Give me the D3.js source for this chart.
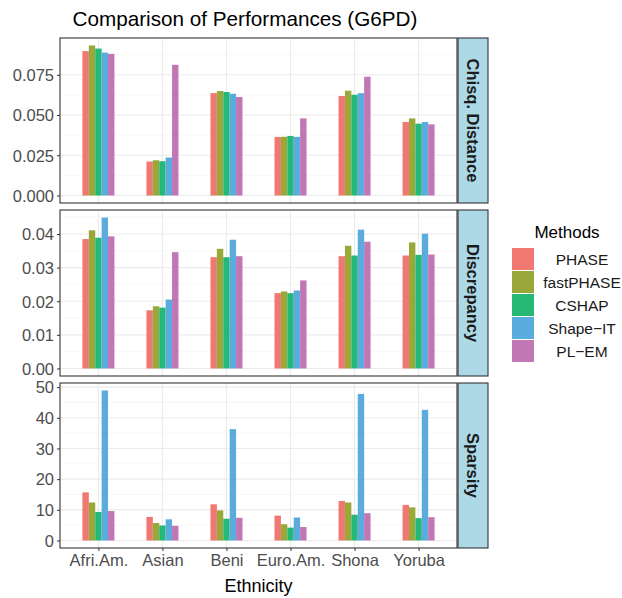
<!DOCTYPE html>
<html>
<head>
<meta charset="utf-8">
<script src="https://cdn.jsdelivr.net/npm/d3@7"></script>
<style>
  body { margin: 0; background: #fff; }
  text { font-family: "Liberation Sans", Arial, sans-serif; }
</style>
</head>
<body>
<svg id="chart" width="622" height="598"></svg>
<script>
const ethnicities = ['Afri.Am.', 'Asian', 'Beni', 'Euro.Am.', 'Shona', 'Yoruba'];
const methods = ['PHASE', 'fastPHASE', 'CSHAP', 'Shape-IT', 'PL-EM'];
const colorsShown = ['#F07870', '#9AA83A', '#25B877', '#5AABDE', '#C077B3'];

// values per ethnicity, in method order
const chisqDistance = [
  [0.0897, 0.0932, 0.0913, 0.0888, 0.0880],
  [0.0211, 0.0219, 0.0213, 0.0236, 0.0812],
  [0.0636, 0.0649, 0.0643, 0.0632, 0.0612],
  [0.0364, 0.0365, 0.0370, 0.0364, 0.0479],
  [0.0618, 0.0651, 0.0626, 0.0636, 0.0738],
  [0.0457, 0.0479, 0.0446, 0.0457, 0.0442]
];
const discrepancy = [
  [0.0385, 0.0411, 0.0389, 0.0449, 0.0393],
  [0.0173, 0.0185, 0.0181, 0.0205, 0.0346],
  [0.0331, 0.0356, 0.0331, 0.0383, 0.0334],
  [0.0224, 0.0229, 0.0224, 0.0232, 0.0262],
  [0.0334, 0.0365, 0.0336, 0.0413, 0.0377],
  [0.0336, 0.0375, 0.0338, 0.0401, 0.0339]
];
const sparsity = [
  [15.7, 12.4, 9.3, 48.9, 9.6],
  [7.7, 5.7, 4.9, 6.9, 4.8],
  [11.8, 9.8, 7.1, 36.3, 7.4],
  [8.1, 5.3, 4.2, 7.5, 4.4],
  [12.9, 12.4, 8.4, 47.8, 8.9],
  [11.6, 10.8, 7.3, 42.6, 7.6]
];

const panels = [
  { name: 'Chisq. Distance', values: chisqDistance, ticks: [0, 0.025, 0.05, 0.075], fmt: d3.format('.3f'), top: 38, bottom: 203 },
  { name: 'Discrepancy', values: discrepancy, ticks: [0, 0.01, 0.02, 0.03, 0.04], fmt: d3.format('.2f'), top: 210, bottom: 376 },
  { name: 'Sparsity', values: sparsity, ticks: [0, 10, 20, 30, 40, 50], fmt: d3.format('d'), top: 383, bottom: 548 }
];

const svg = d3.select('#chart');
const left = 60, right = 457;
const stripW = 30;

// ggplot style discrete scale: 0.6 units of padding on each end
const xscale = d3.scalePoint().domain(ethnicities).range([left, right]).padding(0.6);
const step = xscale.step();
const dodge = d3.scaleBand().domain(methods).range([-step * 0.25, step * 0.25]);
const color = d3.scaleOrdinal().domain(methods).range(colorsShown);

svg.append('text')
  .attr('x', 245).attr('y', 26)
  .attr('text-anchor', 'middle')
  .style('font-size', '20.7px')
  .text('Comparison of Performances (G6PD)');

panels.forEach(p => {
  const ymax = d3.max(p.values.flat());
  const pad = ymax * 0.05;
  const yscale = d3.scaleLinear().domain([-pad, ymax + pad]).range([p.bottom, p.top]);

  const g = svg.append('g');
  g.append('rect')
    .attr('x', left).attr('y', p.top)
    .attr('width', right - left).attr('height', p.bottom - p.top)
    .attr('fill', '#fff');

  // minor grid
  const minor = d3.range(p.ticks.length - 1).map(i => (p.ticks[i] + p.ticks[i + 1]) / 2);
  const t = p.ticks[1] - p.ticks[0];
  const extraMinor = p.ticks[p.ticks.length - 1] + t / 2;
  if (extraMinor < ymax + pad) minor.push(extraMinor);
  g.selectAll('.minor').data(minor).join('line')
    .attr('x1', left).attr('x2', right)
    .attr('y1', d => yscale(d)).attr('y2', d => yscale(d))
    .attr('stroke', '#F2F2F2').attr('stroke-width', 0.6);
  // major grid
  g.selectAll('.major').data(p.ticks).join('line')
    .attr('x1', left).attr('x2', right)
    .attr('y1', d => yscale(d)).attr('y2', d => yscale(d))
    .attr('stroke', '#EBEBEB').attr('stroke-width', 1.1);
  g.selectAll('.vmajor').data(ethnicities).join('line')
    .attr('x1', d => xscale(d)).attr('x2', d => xscale(d))
    .attr('y1', p.top).attr('y2', p.bottom)
    .attr('stroke', '#EBEBEB').attr('stroke-width', 1.1);

  // bars
  const rows = [];
  p.values.forEach((vals, i) => vals.forEach((v, j) => rows.push({ eth: ethnicities[i], method: methods[j], value: v })));
  g.selectAll('.bar').data(rows).join('rect')
    .attr('class', 'bar')
    .attr('x', d => xscale(d.eth) + dodge(d.method))
    .attr('width', dodge.bandwidth())
    .attr('y', d => yscale(d.value))
    .attr('height', d => yscale(0) - yscale(d.value))
    .attr('fill', d => color(d.method));

  // y axis
  const yaxis = d3.axisLeft(yscale).tickValues(p.ticks).tickFormat(p.fmt).tickSize(3).tickSizeOuter(0);
  const ya = g.append('g').attr('transform', `translate(${left},0)`).call(yaxis);
  ya.select('.domain').remove();
  ya.selectAll('line').attr('stroke', '#333');
  ya.selectAll('text').attr('fill', '#4D4D4D').style('font-size', '16.5px')
    .attr('x', -6).attr('dy', '0.35em');

  // panel border
  g.append('rect')
    .attr('x', left).attr('y', p.top)
    .attr('width', right - left).attr('height', p.bottom - p.top)
    .attr('fill', 'none').attr('stroke', '#333').attr('stroke-width', 1.1);

  // strip
  g.append('rect')
    .attr('x', right + 1).attr('y', p.top)
    .attr('width', stripW).attr('height', p.bottom - p.top)
    .attr('fill', '#ADD8E6').attr('stroke', '#333').attr('stroke-width', 1.1);
  const cy = (p.top + p.bottom) / 2, cx = right + 1 + stripW / 2;
  g.append('text')
    .attr('transform', `translate(${cx},${cy}) rotate(90)`)
    .attr('text-anchor', 'middle').attr('dy', '0.35em')
    .style('font-size', '16.5px').style('font-weight', 'bold')
    .attr('fill', '#1A1A1A')
    .text(p.name);

  if (p === panels[panels.length - 1]) {
    const xaxis = d3.axisBottom(xscale).tickSize(3).tickSizeOuter(0);
    const xa = g.append('g').attr('transform', `translate(0,${p.bottom})`).call(xaxis);
    xa.select('.domain').remove();
    xa.selectAll('line').attr('stroke', '#333');
    xa.selectAll('text').attr('fill', '#4D4D4D').style('font-size', '16.5px').attr('y', 6);
  }
});

svg.append('text')
  .attr('x', left + (right - left) / 2).attr('y', 592)
  .attr('text-anchor', 'middle')
  .style('font-size', '18px')
  .text('Ethnicity');

// legend
const legend = svg.append('g');
legend.append('text')
  .attr('x', 567).attr('y', 238)
  .attr('text-anchor', 'middle')
  .style('font-size', '17px')
  .text('Methods');
const keyH = 23;
methods.forEach((m, i) => {
  const y = 248 + i * keyH;
  legend.append('rect')
    .attr('x', 512).attr('y', y).attr('width', 22).attr('height', keyH - 1)
    .attr('fill', color(m));
  legend.append('text')
    .attr('x', 582).attr('y', y + keyH / 2)
    .attr('dy', '0.35em').attr('text-anchor', 'middle')
    .style('font-size', '15.5px').attr('fill', '#1A1A1A')
    .text(m.replace('-', '\u2212'));
});
</script>
</body>
</html>
